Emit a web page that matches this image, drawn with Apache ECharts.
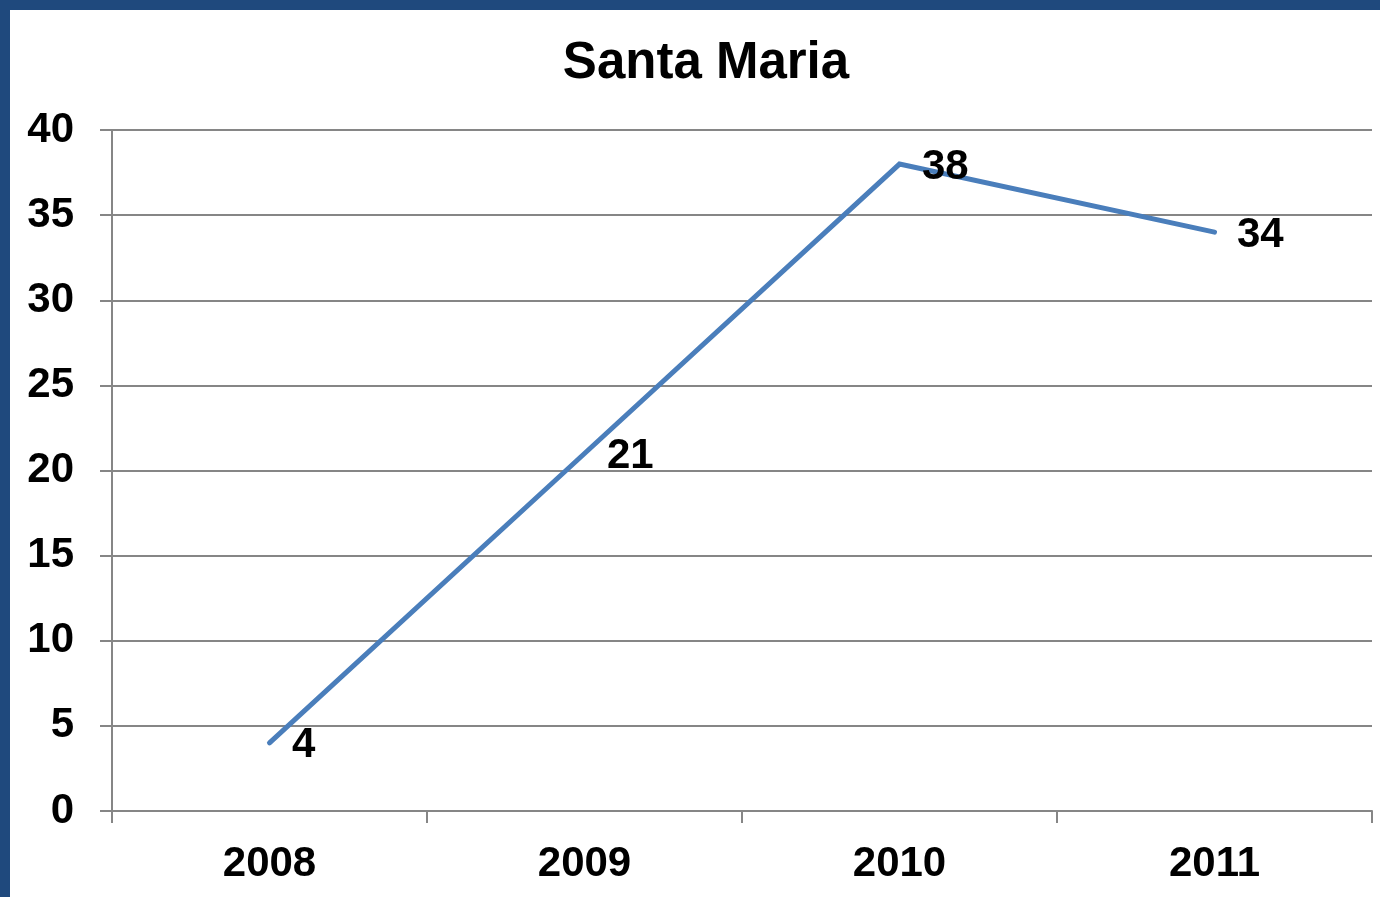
<!DOCTYPE html>
<html>
<head>
<meta charset="utf-8">
<script src="https://cdn.jsdelivr.net/npm/echarts@6/dist/echarts.min.js"></script>
<style>
html,body{margin:0;padding:0;width:1380px;height:897px;background:#1F497D;overflow:hidden;}
#chart{position:absolute;left:10px;top:10px;width:1370px;height:887px;background:#ffffff;}
</style>
</head>
<body>
<div id="chart"></div>
<script>
const titleText = 'Santa Maria';
const categories = ['2008', '2009', '2010', '2011'];
const values = [4, 21, 38, 34];

const chart = echarts.init(document.getElementById('chart'));
const fontFamily = '"Liberation Sans", Arial, sans-serif';
chart.setOption({
  animation: false,
  backgroundColor: '#ffffff',
  title: {
    text: titleText,
    left: 691,
    top: 23,
    textAlign: 'center',
    textStyle: { fontFamily: fontFamily, fontSize: 51, fontWeight: 'bold', color: '#000' }
  },
  grid: { left: 102, right: 8, top: 120, bottom: 86, containLabel: false },
  xAxis: {
    type: 'category',
    data: categories,
    boundaryGap: true,
    axisLine: { lineStyle: { color: '#868686', width: 2 } },
    axisTick: { show: true, length: 12, lineStyle: { color: '#868686', width: 2 } },
    axisLabel: { fontFamily: fontFamily, fontSize: 42, fontWeight: 'bold', color: '#000', margin: 32 },
    splitLine: { show: false }
  },
  yAxis: {
    type: 'value',
    min: 0, max: 40, interval: 5,
    axisLine: { show: true, lineStyle: { color: '#868686', width: 2 } },
    axisTick: { show: true, length: 12, lineStyle: { color: '#868686', width: 2 } },
    axisLabel: { fontFamily: fontFamily, fontSize: 42, fontWeight: 'bold', color: '#000', margin: 38 },
    splitLine: { show: true, lineStyle: { color: '#868686', width: 2 } }
  },
  series: [{
    type: 'line',
    data: values,
    showSymbol: true,
    symbol: 'circle',
    symbolSize: 1,
    itemStyle: { color: 'rgba(0,0,0,0)' },
    lineStyle: { color: '#4A7EBB', width: 5, cap: 'round', join: 'miter' },
    label: {
      show: true,
      position: 'right',
      distance: 22,
      offset: [0, 3],
      fontFamily: fontFamily, fontSize: 42, fontWeight: 'bold', color: '#000'
    },
    z: 2
  }]
});
</script>
</body>
</html>
